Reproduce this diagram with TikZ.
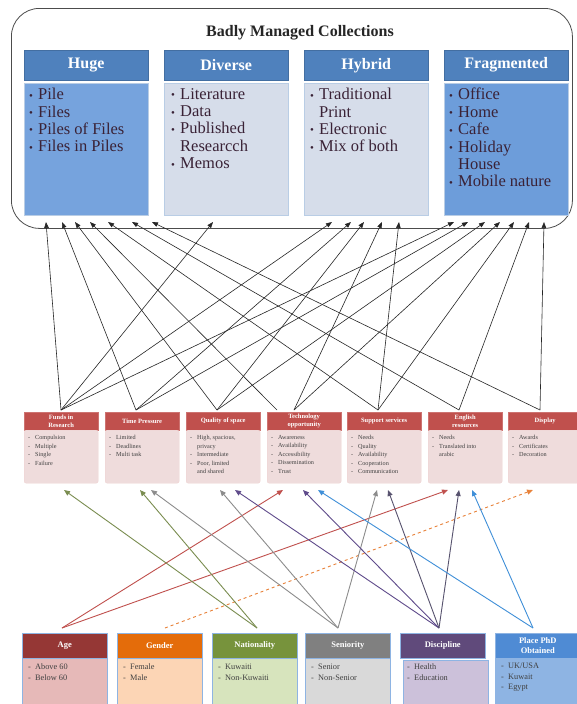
\documentclass[tikz,border=0pt]{standalone}
\usepackage{fontspec}
\setmainfont{Liberation Serif}
\usetikzlibrary{arrows.meta}
\definecolor{tophdr}{HTML}{4F81BD}
\definecolor{hugebody}{HTML}{76A3DD}
\definecolor{lightbody}{HTML}{D6DDEA}
\definecolor{fragbody}{HTML}{6D9DDA}
\definecolor{bodytxt}{HTML}{3A2236}
\definecolor{midhdr}{HTML}{C0504D}
\definecolor{midbody}{HTML}{EFDCDC}
\definecolor{agehdr}{HTML}{953735}
\definecolor{agebody}{HTML}{E6B9B8}
\definecolor{genhdr}{HTML}{E46C0A}
\definecolor{genbody}{HTML}{FCD5B5}
\definecolor{nathdr}{HTML}{77933C}
\definecolor{natbody}{HTML}{D7E4BD}
\definecolor{senhdr}{HTML}{808080}
\definecolor{senbody}{HTML}{D9D9D9}
\definecolor{dishdr}{HTML}{604A7B}
\definecolor{disbody}{HTML}{CCC1DA}
\definecolor{phdhdr}{HTML}{4F8BD4}
\definecolor{phdbody}{HTML}{8EB4E3}
\definecolor{cgray}{HTML}{8C8C8C}
\definecolor{cpurple}{HTML}{5F4B8B}
\definecolor{cdark}{HTML}{57526E}
\definecolor{cblue}{HTML}{3F8FD8}
\definecolor{cgreen}{HTML}{77933C}
\definecolor{cred}{HTML}{C0504D}
\definecolor{corange}{HTML}{E8823A}
\newcommand{\topitem}[1]{\makebox[9pt][l]{\raisebox{0.5pt}{\fontsize{11}{11}\selectfont\textbullet}}#1}
\newcommand{\topcont}[1]{\hspace*{9pt}#1}
\newcommand{\dashitem}[1]{\makebox[7pt][l]{-}#1}
\newcommand{\dashcont}[1]{\hspace*{7pt}#1}
\begin{document}
\begin{tikzpicture}[x=1pt,y=-1pt,
  tophead/.style={draw=tophdr!85!black, line width=0.4pt, fill=tophdr, text=white,
    font=\bfseries\fontsize{16}{18}\selectfont, minimum width=124pt, minimum height=30pt,
    anchor=north west, inner sep=0pt},
  topbody/.style={draw=tophdr!40, line width=0.4pt, fill=#1, minimum width=124pt,
    minimum height=132pt, anchor=north west, inner sep=0pt},
  toptext/.style={anchor=north west, align=left, font=\fontsize{16.5}{17.4}\selectfont,
    text=bodytxt, inner sep=0pt},
  midhead/.style={fill=midhdr, draw=midhdr!80!white, line width=0.3pt, text=white,
    font=\bfseries\fontsize{6.5}{8.3}\selectfont, minimum width=74pt, minimum height=18pt,
    anchor=north west, inner sep=0pt, align=center},
  midbody/.style={fill=midbody, draw=midhdr!25, line width=0.3pt, minimum width=74pt,
    minimum height=53pt, anchor=north west, inner sep=0pt, rounded corners=2pt},
  midtext/.style={anchor=north west, align=left, font=\fontsize{6.2}{8.5}\selectfont,
    text=black!75, inner sep=0pt},
  bothead/.style={fill=#1, draw=phdbody, line width=0.6pt, text=white,
    font=\bfseries\fontsize{8.5}{10}\selectfont, minimum width=85pt, minimum height=25pt,
    anchor=north west, inner sep=0pt, align=center},
  botbody/.style={fill=#1, draw=phdbody, line width=0.6pt, minimum width=85pt,
    minimum height=50pt, anchor=north west, inner sep=0pt},
  bottext/.style={anchor=north west, align=left, font=\fontsize{8.3}{10.5}\selectfont,
    text=black!75, inner sep=0pt},
  topconn/.style={draw=black!85, line width=0.6pt, -{Triangle[length=6pt,width=4.5pt]}},
  botconn/.style={draw=#1, line width=0.9pt, -{Triangle[length=6pt,width=5pt]}}
]
\useasboundingbox (0,0) rectangle (576,704);
\fill[white] (0,0) rectangle (576,704);

% outer container
\node[draw=black!70, line width=0.8pt, rounded corners=28pt, minimum width=561pt,
  minimum height=220pt, anchor=north west, inner sep=0pt] (outer) at (11,8) {};
\node[font=\bfseries\fontsize{16}{18}\selectfont, text=black!85] (title) at (300,33) {Badly Managed Collections};

% top boxes
\node[tophead] (h1) at (24,50) {Huge};
\node[topbody=hugebody] (b1) at (24,83) {};
\node[toptext] (b1t) at (29,88) {\topitem{Pile}\\\topitem{Files}\\\topitem{Piles of Files}\\\topitem{Files in Piles}};

\node[tophead] (h2) at (164,50) {Diverse};
\node[topbody=lightbody] (b2) at (164,83) {};
\node[toptext] (b2t) at (171,88) {\topitem{Literature}\\\topitem{Data}\\\topitem{Published}\\\topcont{Researcch}\\\topitem{Memos}};

\node[tophead] (h3) at (304,50) {Hybrid};
\node[topbody=lightbody] (b3) at (304,83) {};
\node[toptext] (b3t) at (310,88) {\topitem{Traditional}\\\topcont{Print}\\\topitem{Electronic}\\\topitem{Mix of both}};

\node[tophead] (h4) at (444,50) {Fragmented};
\node[topbody=fragbody] (b4) at (444,83) {};
\node[toptext] (b4t) at (449,88) {\topitem{Office}\\\topitem{Home}\\\topitem{Cafe}\\\topitem{Holiday}\\\topcont{House}\\\topitem{Mobile nature}};

% middle boxes
\node[midhead] (m1) at (24,412) {Funds in\\Research};
\node[midbody] (mb1) at (24,430) {};
\node[midtext] (mt1) at (28,435) {\dashitem{Compulsion}\\\dashitem{Multiple}\\\dashitem{Single}\\\dashitem{Failure}};

\node[midhead] (m2) at (105,412) {Time Pressure};
\node[midbody] (mb2) at (105,430) {};
\node[midtext] (mt2) at (109,435) {\dashitem{Limited}\\\dashitem{Deadlines}\\\dashitem{Multi task}};

\node[midhead] (m3) at (186,412) {Quality of space};
\node[midbody] (mb3) at (186,430) {};
\node[midtext] (mt3) at (190,435) {\dashitem{High, spacious,}\\\dashcont{privacy}\\\dashitem{Intermediate}\\\dashitem{Poor, limited}\\\dashcont{and shared}};

\node[midhead] (m4) at (267,412) {Technology\\opportunity};
\node[midbody] (mb4) at (267,430) {};
\node[midtext] (mt4) at (271,435) {\dashitem{Awareness}\\\dashitem{Availability}\\\dashitem{Accessibility}\\\dashitem{Dissemination}\\\dashitem{Trust}};

\node[midhead] (m5) at (347,412) {Support services};
\node[midbody] (mb5) at (347,430) {};
\node[midtext] (mt5) at (351,435) {\dashitem{Needs}\\\dashitem{Quality}\\\dashitem{Availability}\\\dashitem{Cooperation}\\\dashitem{Communication}};

\node[midhead] (m6) at (428,412) {English\\resources};
\node[midbody] (mb6) at (428,430) {};
\node[midtext] (mt6) at (432,435) {\dashitem{Needs}\\\dashitem{Translated into}\\\dashcont{arabic}};

\node[midhead] (m7) at (508,412) {Display};
\node[midbody] (mb7) at (508,430) {};
\node[midtext] (mt7) at (512,435) {\dashitem{Awards}\\\dashitem{Certificates}\\\dashitem{Decoration}};

% bottom boxes
\node[bothead=agehdr] (f1) at (22,633) {Age};
\node[botbody=agebody] (fb1) at (22,658) {};
\node[bottext] (ft1) at (28,664) {\dashitem{Above 60}\\\dashitem{Below 60}};

\node[bothead=genhdr] (f2) at (117,633) {Gender};
\node[botbody=genbody] (fb2) at (117,658) {};
\node[bottext] (ft2) at (123,664) {\dashitem{Female}\\\dashitem{Male}};

\node[bothead=nathdr] (f3) at (212,633) {Nationality};
\node[botbody=natbody] (fb3) at (212,658) {};
\node[bottext] (ft3) at (218,664) {\dashitem{Kuwaiti}\\\dashitem{Non-Kuwaiti}};

\node[bothead=senhdr] (f4) at (305,633) {Seniority};
\node[botbody=senbody] (fb4) at (305,658) {};
\node[bottext] (ft4) at (311,664) {\dashitem{Senior}\\\dashitem{Non-Senior}};

\node[bothead=dishdr] (f5) at (400,633) {Discipline};
\node[botbody=disbody] (fb5) at (403,660) {};
\node[bottext] (ft5) at (407,664) {\dashitem{Health}\\\dashitem{Education}};

\node[bothead=phdhdr] (f6) at (495,633) {Place PhD\\Obtained};
\node[botbody=phdbody] (fb6) at (495,658) {};
\node[bottext] (ft6) at (501,663) {\dashitem{UK/USA}\\\dashitem{Kuwait}\\\dashitem{Egypt}};

% connector end points: top tips
\foreach \n/\x in {t1/46,t2/62,t3/75,t4/90,t5/108,t6/132,t7/152,t8/213,
  t9/332,t10/351,t11/364,t12/382,t13/399,
  t14/454,t15/468,t16/485,t17/500,t18/514,t19/529,t20/544}
  \coordinate (\n) at (\x,222);
% sources above middle boxes
\coordinate (s1) at (61,410);
\coordinate (s2) at (136,410);
\coordinate (s3) at (217,410);
\coordinate (s4a) at (277,410);
\coordinate (s4b) at (294,410);
\coordinate (s5) at (378,410);
\coordinate (s6) at (459,410);
\coordinate (s7) at (540,410);

\foreach \s/\t in {s1/t1,s1/t8,s1/t9,s1/t14,
  s2/t2,s2/t10,s2/t15,
  s3/t3,s3/t11,s3/t16,
  s4a/t4,s4b/t12,s4b/t17,
  s5/t5,s5/t13,s5/t18,
  s6/t6,s6/t19,
  s7/t7,s7/t20}
  \draw[topconn] (\s) -- (\t);

% bottom connectors: tips under middle boxes
\foreach \n/\x in {u1/64,u2/140,u3/151,u4/220,u5/235,u6/283,u7/303,u8/318,
  u9/377,u10/388,u11/448,u12/459,u13/472,u14/533}
  \coordinate (\n) at (\x,490);
\coordinate (p1) at (62,628);
\coordinate (p2) at (165,628);
\coordinate (p3) at (257,628);
\coordinate (p4) at (338,628);
\coordinate (p5) at (439,628);
\coordinate (p6) at (533,628);

\draw[botconn=cred] (p1) -- (u6);
\draw[botconn=cred] (p1) -- (u11);
\draw[botconn=corange, dashed] (p2) -- (u14);
\draw[botconn=cgreen!70!gray] (p3) -- (u1);
\draw[botconn=cgreen!70!gray] (p3) -- (u2);
\draw[botconn=cgray] (p4) -- (u3);
\draw[botconn=cgray] (p4) -- (u4);
\draw[botconn=cgray] (p4) -- (u9);
\draw[botconn=cpurple] (p5) -- (u5);
\draw[botconn=cpurple] (p5) -- (u7);
\draw[botconn=cdark] (p5) -- (u10);
\draw[botconn=cdark] (p5) -- (u12);
\draw[botconn=cblue] (p6) -- (u8);
\draw[botconn=cblue] (p6) -- (u13);
\end{tikzpicture}
\end{document}
